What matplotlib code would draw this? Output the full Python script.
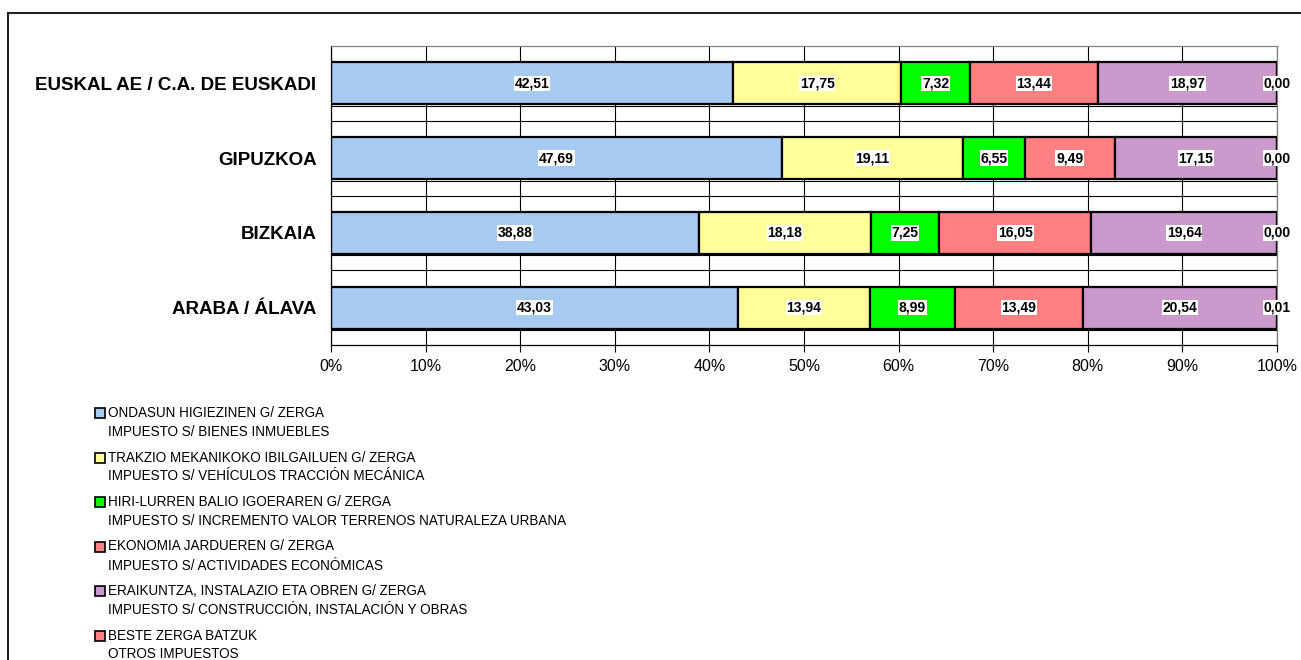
import matplotlib
matplotlib.use("Agg")
import matplotlib.pyplot as plt
from matplotlib.patches import Rectangle
from matplotlib.lines import Line2D
import numpy as np

plt.rcParams['font.family'] = ['Liberation Sans', 'DejaVu Sans']

categories = ["EUSKAL AE / C.A. DE EUSKADI", "GIPUZKOA", "BIZKAIA", "ARABA / ÁLAVA"]
ondasun = [42.51, 47.69, 38.88, 43.03]
trakzio = [17.75, 19.11, 18.18, 13.94]
hiri_lurren = [7.32, 6.55, 7.25, 8.99]
ekonomia = [13.44, 9.49, 16.05, 13.49]
eraikuntza = [18.97, 17.15, 19.64, 20.54]
beste = [0.00, 0.00, 0.00, 0.01]
x_ticklabels = ["0%", "10%", "20%", "30%", "40%", "50%", "60%", "70%", "80%", "90%", "100%"]

series = [ondasun, trakzio, hiri_lurren, ekonomia, eraikuntza, beste]
colors = ["#A6CAF0", "#FFFF99", "#00FF00", "#FF8080", "#CC99CC", "#FF8080"]
legend_lines = [
    ("ONDASUN HIGIEZINEN G/ ZERGA", "IMPUESTO S/ BIENES INMUEBLES"),
    ("TRAKZIO MEKANIKOKO IBILGAILUEN G/ ZERGA", "IMPUESTO S/ VEHÍCULOS TRACCIÓN MECÁNICA"),
    ("HIRI-LURREN BALIO IGOERAREN G/ ZERGA", "IMPUESTO S/ INCREMENTO VALOR TERRENOS NATURALEZA URBANA"),
    ("EKONOMIA JARDUEREN G/ ZERGA", "IMPUESTO S/ ACTIVIDADES ECONÓMICAS"),
    ("ERAIKUNTZA, INSTALAZIO ETA OBREN G/ ZERGA", "IMPUESTO S/ CONSTRUCCIÓN, INSTALACIÓN Y OBRAS"),
    ("BESTE ZERGA BATZUK", "OTROS IMPUESTOS"),
]

W, H = 1301, 660
fig = plt.figure(figsize=(W / 100, H / 100), dpi=100)
ax = fig.add_axes([331 / W, 1 - 345 / H, (1277 - 331) / W, (345 - 46) / H])

data = np.array(series, dtype=float)
totals = data.sum(axis=0)
pct = data / totals * 100
y = np.arange(len(categories))
left = np.zeros(len(categories))
bar_h = 0.56

ax.set_xlim(0, 100)
ax.set_ylim(len(categories) - 0.5, -0.5)
ax.set_xticks(np.arange(0, 101, 10))
ax.set_xticklabels(x_ticklabels)
ax.grid(axis='x', color='black', linewidth=0.8, zorder=0)
for b in np.arange(0.5, len(categories) - 0.5, 1):
    ax.axhline(b, color='black', linewidth=0.8, zorder=0)
for yi in y:
    ax.axhline(yi + 0.30, color='black', linewidth=0.8, zorder=0)
ax.set_axisbelow(True)

for s, (vals, raw) in enumerate(zip(pct, data)):
    ax.barh(y, vals, left=left, height=bar_h, color=colors[s],
            edgecolor='black', linewidth=1.6, zorder=2)
    for i in range(len(categories)):
        cx = left[i] + vals[i] / 2
        ax.text(cx, y[i], f"{raw[i]:.2f}".replace('.', ','), ha='center', va='center',
                fontsize=10, fontweight='bold', zorder=5,
                bbox=dict(facecolor='white', edgecolor='none', pad=0.6))
    left = left + vals

ax.set_yticks(y)
ax.set_yticklabels(categories, fontsize=13.5, fontweight='bold')
ax.tick_params(axis='y', length=0, pad=10.5)
ax.tick_params(axis='x', direction='out', length=5, width=0.8, pad=5, labelsize=11.5)

for side in ['left', 'bottom']:
    ax.spines[side].set_color('black')
    ax.spines[side].set_linewidth(0.9)
for side in ['top', 'right']:
    ax.spines[side].set_color('#808080')
    ax.spines[side].set_linewidth(0.9)

# legend drawn in figure pixel coordinates
for i, ((l1, l2), c) in enumerate(zip(legend_lines, colors)):
    yc = 413 + 44.5 * i
    fig.patches.append(Rectangle((95 / W, 1 - (yc + 5) / H), 10 / W, 10 / H,
                                 transform=fig.transFigure, facecolor=c,
                                 edgecolor='black', linewidth=1.2))
    fig.text(108 / W, 1 - yc / H, l1, fontsize=9.75, ha='left', va='center')
    fig.text(108 / W, 1 - (yc + 19) / H, l2, fontsize=9.75, ha='left', va='center')

# outer frame
fig.add_artist(Line2D([8 / W, 1], [1 - 13 / H, 1 - 13 / H], transform=fig.transFigure,
                      color='#222222', linewidth=1.5))
fig.add_artist(Line2D([8 / W, 8 / W], [1 - 13 / H, 0], transform=fig.transFigure,
                      color='#222222', linewidth=1.5))

fig.savefig("out.png", dpi=100)
